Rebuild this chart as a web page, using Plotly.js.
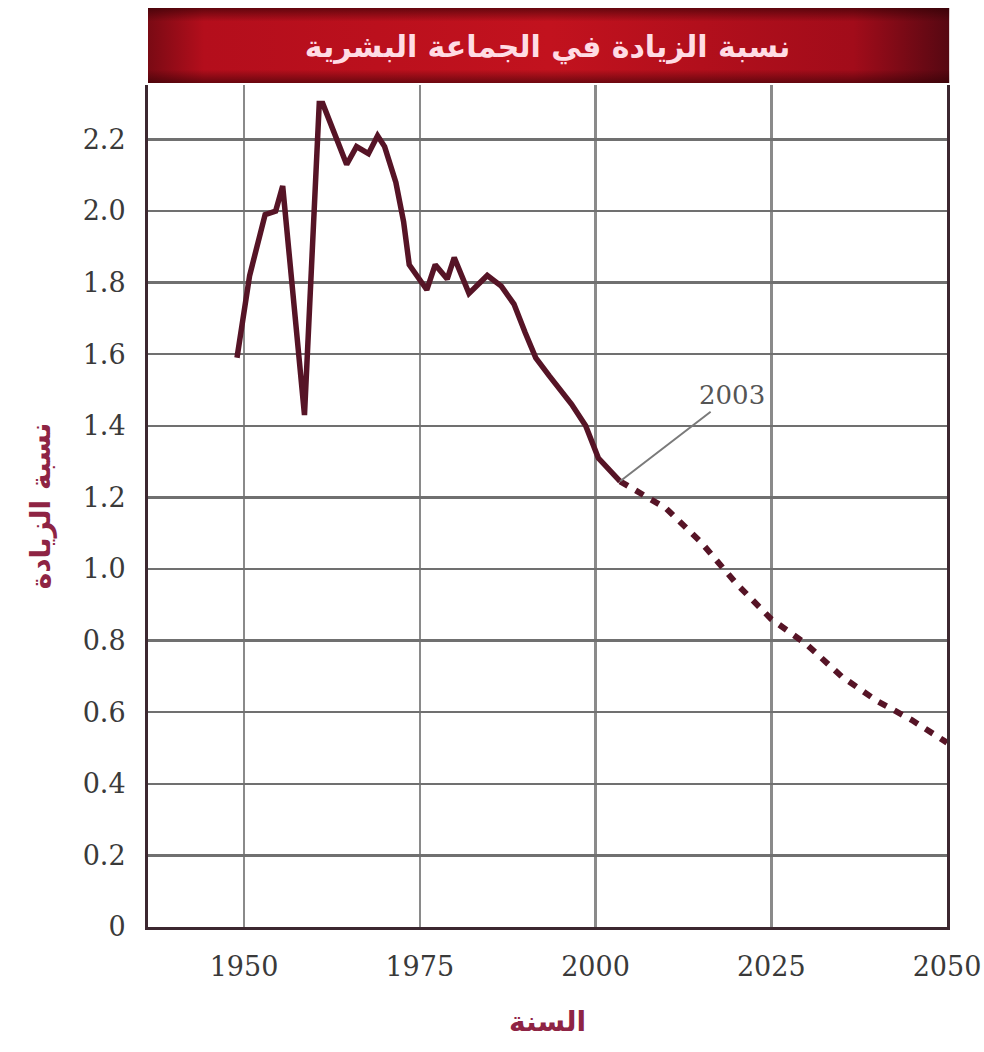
<!DOCTYPE html>
<html>
<head>
<meta charset="utf-8">
<script src="https://cdn.plot.ly/plotly-3.0.1.min.js"></script>
<style>html,body{margin:0;padding:0;background:#fff;}#chart{width:984px;height:1052px;}</style>
</head>
<body>
<div id="chart"></div>
<script>
// Historical growth rate (%)
var histYears = [1949, 1950.8, 1953, 1954.5, 1955.5, 1958.6, 1960.7, 1961.2, 1964.6, 1966, 1967.7, 1969, 1970, 1971.6, 1972.7, 1973.5, 1976, 1977.2, 1978.9, 1979.9, 1982, 1984.6, 1986.6, 1988.4, 1990, 1991.5, 1993.4, 1996.6, 1998.6, 2000.4, 2003.5];
var histRates = [1.59, 1.82, 1.99, 2.00, 2.07, 1.43, 2.30, 2.30, 2.13, 2.18, 2.16, 2.21, 2.18, 2.08, 1.97, 1.85, 1.78, 1.85, 1.81, 1.87, 1.77, 1.82, 1.79, 1.74, 1.66, 1.59, 1.54, 1.46, 1.40, 1.31, 1.245];
// Projection (dashed)
var projYears = [2003.5, 2010, 2015, 2020, 2025, 2030, 2035, 2040, 2045, 2050];
var projRates = [1.245, 1.17, 1.075, 0.96, 0.86, 0.79, 0.70, 0.632, 0.578, 0.515];

var yTickVals = [0, 0.2, 0.4, 0.6, 0.8, 1.0, 1.2, 1.4, 1.6, 1.8, 2.0, 2.2];
var yTickText = ['0', '0.2', '0.4', '0.6', '0.8', '1.0', '1.2', '1.4', '1.6', '1.8', '2.0', '2.2'];
var xTickVals = [1950, 1975, 2000, 2025, 2050];
var xTickText = ['1950', '1975', '2000', '2025', '2050'];

var titleText = 'نسبة الزيادة في الجماعة البشرية';
var yTitle = 'نسبة الزيادة';
var xTitle = 'السنة';
var markYear = 2003.5, markRate = 1.245, markLabel = '2003';

var lineColor = '#561426';

var bannerSvg = "<svg xmlns='http://www.w3.org/2000/svg' width='800' height='76' preserveAspectRatio='none'>" +
  "<defs><linearGradient id='h' x1='0' x2='1' y1='0' y2='0'>" +
  "<stop offset='0' stop-color='#7a0a14'/><stop offset='0.07' stop-color='#b40e1c'/>" +
  "<stop offset='0.5' stop-color='#c2121e'/><stop offset='0.88' stop-color='#a20c1a'/>" +
  "<stop offset='1' stop-color='#560812'/></linearGradient>" +
  "<linearGradient id='v' x1='0' x2='0' y1='0' y2='1'>" +
  "<stop offset='0' stop-color='#2a0004' stop-opacity='0.6'/><stop offset='0.18' stop-color='#2a0004' stop-opacity='0'/>" +
  "<stop offset='0.82' stop-color='#2a0004' stop-opacity='0'/><stop offset='1' stop-color='#2a0004' stop-opacity='0.55'/>" +
  "</linearGradient></defs>" +
  "<rect width='800' height='76' fill='url(#h)'/><rect width='800' height='76' fill='url(#v)'/></svg>";

var traces = [
  {x: histYears, y: histRates, type: 'scatter', mode: 'lines',
   line: {color: lineColor, width: 5.5}, hoverinfo: 'skip'},
  {x: projYears, y: projRates, type: 'scatter', mode: 'lines',
   line: {color: lineColor, width: 6, dash: '9px,9px'}, hoverinfo: 'skip'}
];

var layout = {
  width: 984, height: 1052,
  margin: {l: 148, r: 37, t: 85, b: 125},
  paper_bgcolor: '#ffffff', plot_bgcolor: '#ffffff',
  showlegend: false,
  title: {text: '<b>' + titleText + '</b>', x: 0.5, xref: 'paper', xanchor: 'center',
          y: 1 - 46 / 1052, yref: 'container', yanchor: 'middle',
          font: {family: 'DejaVu Sans', size: 30, color: '#ffdce4'}},
  xaxis: {range: [1936.34, 2050], tickvals: xTickVals, ticktext: xTickText,
          showgrid: true, gridcolor: '#8a8a8a', gridwidth: 2.5,
          showline: true, linecolor: '#3c2830', linewidth: 3,
          ticks: '', ticklabelstandoff: 14, zeroline: false,
          tickfont: {family: 'DejaVu Serif', size: 27, color: '#3a3a3a'},
          title: {text: '<b>' + xTitle + '</b>', standoff: 30,
                  font: {family: 'DejaVu Sans', size: 28, color: '#8e2444'}}},
  yaxis: {range: [0, 2.352], tickvals: yTickVals, ticktext: yTickText,
          showgrid: true, gridcolor: '#707070', gridwidth: 2.5,
          showline: true, linecolor: '#3c2830', linewidth: 3, mirror: true,
          ticks: '', ticklabelstandoff: 14, zeroline: false,
          tickfont: {family: 'DejaVu Serif', size: 27, color: '#3a3a3a'},
          title: {text: '<b>' + yTitle + '</b>', standoff: 24,
                  font: {family: 'DejaVu Sans', size: 28, color: '#8e2444'}}},
  images: [{source: 'data:image/svg+xml;charset=utf-8,' + encodeURIComponent(bannerSvg),
            xref: 'paper', yref: 'paper', x: 0, y: (927 - 8) / 842,
            sizex: 1.003, sizey: 75 / 842, sizing: 'stretch',
            xanchor: 'left', yanchor: 'top', layer: 'above'}],
  annotations: [{x: markYear, y: markRate, xref: 'x', yref: 'y', text: markLabel,
                 showarrow: true, arrowhead: 0, arrowwidth: 2, arrowcolor: '#7a7a7a',
                 ax: 112, ay: -86, standoff: 0,
                 font: {family: 'DejaVu Serif', size: 26, color: '#555555'}}]
};

Plotly.newPlot('chart', traces, layout, {staticPlot: true, displayModeBar: false});
</script>
</body>
</html>
